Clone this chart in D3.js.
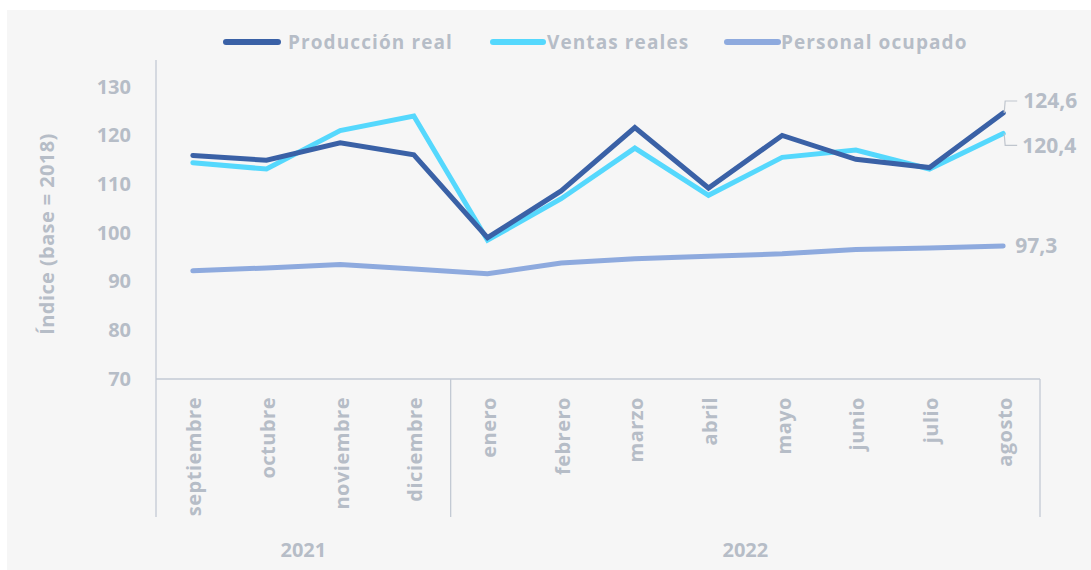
<!DOCTYPE html>
<html><head><meta charset="utf-8">
<script src="https://cdn.jsdelivr.net/npm/d3@7"></script>
<style>
html,body{margin:0;padding:0;background:#fff;}
text{font-family:"Open Sans", Lato, sans-serif;font-weight:700;fill:#b6bdc7;}
</style></head>
<body><svg id="c" width="1091" height="570"></svg>
<script>
const months = ["septiembre","octubre","noviembre","diciembre","enero","febrero","marzo","abril","mayo","junio","julio","agosto"];
const years = ["2021","2022"];
const yearSpans = [[0,3],[4,11]];
const produccion = [115.9,114.9,118.5,116.0,99.0,108.6,121.6,109.2,120.0,115.1,113.4,124.6];
const ventas     = [114.4,113.1,121.0,124.0,98.5,107.0,117.4,107.7,115.5,117.0,113.1,120.4];
const personal   = [92.2,92.8,93.5,92.6,91.6,93.8,94.7,95.2,95.7,96.6,96.9,97.3];
const seriesNames = ["Producción real","Ventas reales","Personal ocupado"];
const yTicks = [70,80,90,100,110,120,130];
const endLabels = ["124,6","120,4","97,3"];

const colors = ["#3a61a6","#55d8fd","#8eaade"];
const axisColor = "#c3cad4";
const FONT = '"Open Sans", Lato, sans-serif';

const svg = d3.select("#c");
svg.append("rect").attr("x",7).attr("y",10).attr("width",1084).attr("height",560).attr("fill","#f6f6f6");

const x = d3.scaleBand().domain(months).range([156,1040]).padding(0);
const cx = m => x(m) + x.bandwidth()/2;
const y = d3.scaleLinear().domain([70,130]).range([379,86.7]);

// y axis
const ya = svg.append("g").attr("transform","translate(156,0)")
  .call(d3.axisLeft(y).tickValues(yTicks).tickSize(0).tickPadding(25).tickFormat(d3.format("d")));
ya.select(".domain").remove();
ya.selectAll("text").style("font-family",FONT).style("font-weight","700").style("font-size","20px").attr("fill","#b6bdc7");
svg.append("line").attr("x1",156).attr("x2",156).attr("y1",60).attr("y2",517).attr("stroke",axisColor).attr("stroke-width",1.3);
svg.append("line").attr("x1",156).attr("x2",1040).attr("y1",y(70)).attr("y2",y(70)).attr("stroke",axisColor).attr("stroke-width",1.3);
// separators
yearSpans.forEach(s=>{
  const xr = x(months[s[1]]) + x.bandwidth();
  svg.append("line").attr("x1",xr).attr("x2",xr).attr("y1",y(70)).attr("y2",517).attr("stroke",axisColor).attr("stroke-width",1.3);
});
// axis title
svg.append("text").attr("transform","translate(47,234) rotate(-90)").attr("text-anchor","middle").attr("dy","0.35em")
  .style("font-size","20px").style("letter-spacing","0.4px").text("Índice (base = 2018)");

// month labels
svg.append("g").selectAll("text").data(months).join("text")
  .attr("transform",d=>`translate(${cx(d)+1},397) rotate(-90)`)
  .attr("text-anchor","end").attr("dy","0.38em").style("font-size","20px").style("letter-spacing","0.5px").text(d=>d);
// year labels
svg.append("g").selectAll("text").data(years).join("text")
  .attr("x",(d,i)=>(x(months[yearSpans[i][0]]) + x(months[yearSpans[i][1]]) + x.bandwidth())/2)
  .attr("y",557).attr("text-anchor","middle").style("font-size","20px").text(d=>d);

// lines
const data = [produccion, ventas, personal];
const line = d3.line().x((d,i)=>cx(months[i])).y(d=>y(d));
[2,1,0].forEach(k=>{
  svg.append("path").datum(data[k]).attr("d",line).attr("fill","none")
    .attr("stroke",colors[k]).attr("stroke-width",5).attr("stroke-linecap","round").attr("stroke-linejoin","miter");
});

// end labels
const last = months.length-1;
const ex = cx(months[last]);
const p0 = y(produccion[last]), v0 = y(ventas[last]), q0 = y(personal[last]);
svg.append("path").attr("d",`M${ex+1},${p0} L${ex+2},${p0-12} L${ex+14},${p0-12}`).attr("fill","none").attr("stroke","#bfc5cd").attr("stroke-width",1.2);
svg.append("path").attr("d",`M${ex+1},${v0} L${ex+2},${v0+12} L${ex+14},${v0+12}`).attr("fill","none").attr("stroke","#bfc5cd").attr("stroke-width",1.2);
svg.append("text").attr("x",ex+20).attr("y",p0-12).attr("dy","0.35em").style("font-size","21px").text(endLabels[0]);
svg.append("text").attr("x",ex+19).attr("y",v0+12).attr("dy","0.35em").style("font-size","21px").text(endLabels[1]);
svg.append("text").attr("x",ex+12).attr("y",q0).attr("dy","0.35em").style("font-size","21px").text(endLabels[2]);

// legend
const legX = [[226,278,288],[493,543,547],[727,778,781]];
const lg = svg.append("g");
seriesNames.forEach((n,i)=>{
  lg.append("line").attr("x1",legX[i][0]).attr("x2",legX[i][1]).attr("y1",42).attr("y2",42)
    .attr("stroke",colors[i]).attr("stroke-width",6).attr("stroke-linecap","round");
  lg.append("text").attr("x",legX[i][2]).attr("y",42).attr("dy","0.35em").style("font-size","19px").style("letter-spacing","1.1px").text(n);
});
</script></body></html>
